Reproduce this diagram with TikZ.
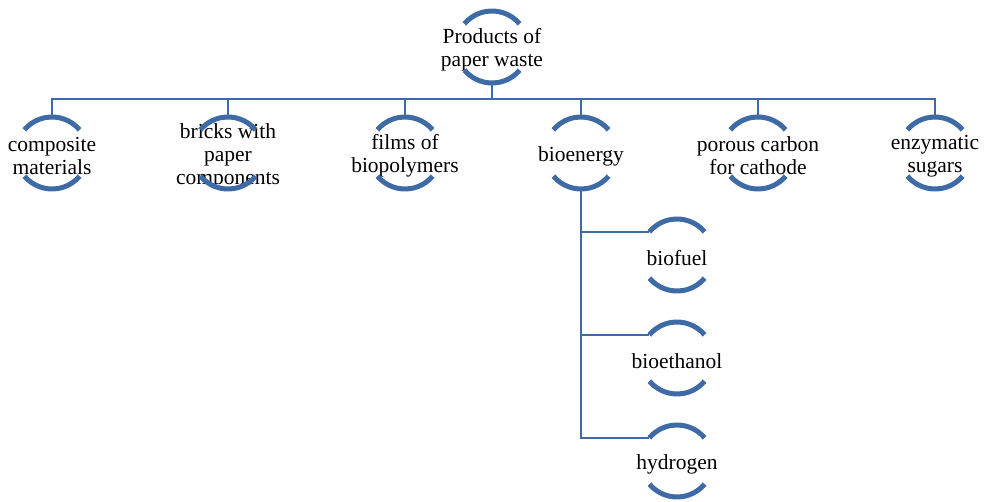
\documentclass[tikz,border=0pt]{standalone}
\usepackage{fontspec}
\setmainfont{Liberation Serif}
\usetikzlibrary{positioning}
\definecolor{ringblue}{HTML}{3E6AA6}
\tikzset{
  ring/.style={circle, minimum size=72pt, inner sep=0pt, outer sep=0pt},
  txt/.style={align=center, font=\fontsize{21.5}{23}\selectfont, inner sep=0pt, yshift=-3pt},
  link/.style={draw=ringblue, line width=2.5pt},
  arcline/.style={draw=ringblue, line width=5pt}
}

\begin{document}
\begin{tikzpicture}[x=1pt,y=1pt]
        \useasboundingbox (0,0) rectangle (990,-502);

        % Top node
        \node[ring, label={[txt]center:{Products of\\paper waste}}] (top) at (492,-47) {};

        % First level
        \node[ring, label={[txt]center:{composite\\materials}}] (comp) at (52,-153) {};
        \node[ring, label={[txt]center:{bricks with\\paper\\components}}] (brick) at (228,-153) {};
        \node[ring, label={[txt]center:{films of\\biopolymers}}] (film) at (405,-153) {};
        \node[ring, label={[txt]center:{bioenergy}}] (bio) at (581,-153) {};
        \node[ring, label={[txt]center:{porous carbon\\for cathode}}] (carbon) at (758,-153) {};
        \node[ring, label={[txt]center:{enzymatic\\sugars}}] (sugar) at (935,-153) {};

        % Bioenergy products
        \node[ring, label={[txt]center:{biofuel}}] (fuel) at (677,-255) {};
        \node[ring, label={[txt]center:{bioethanol}}] (ethanol) at (677,-358) {};
        \node[ring, label={[txt]center:{hydrogen}}] (hydro) at (677,-461) {};

        % Bus line
        \coordinate[below=16pt of top.south] (bus);
        \foreach \c in {comp,brick,film,bio,carbon,sugar} {
            \draw[link] (top.south) -- (bus) -| (\c.north);
        }

        % Branches of bioenergy
        \foreach \s in {fuel,ethanol,hydro} {
            \draw[link] (bio.south) |- (\s.140);
        }

        % Arcs round each node
        \foreach \n in {top,comp,brick,film,bio,carbon,sugar,fuel,ethanol,hydro} {
            \draw[arcline] (\n.40) arc[start angle=40, end angle=140, radius=36pt];
            \draw[arcline] (\n.220) arc[start angle=220, end angle=320, radius=36pt];
        }
    \end{tikzpicture}
\end{document}
